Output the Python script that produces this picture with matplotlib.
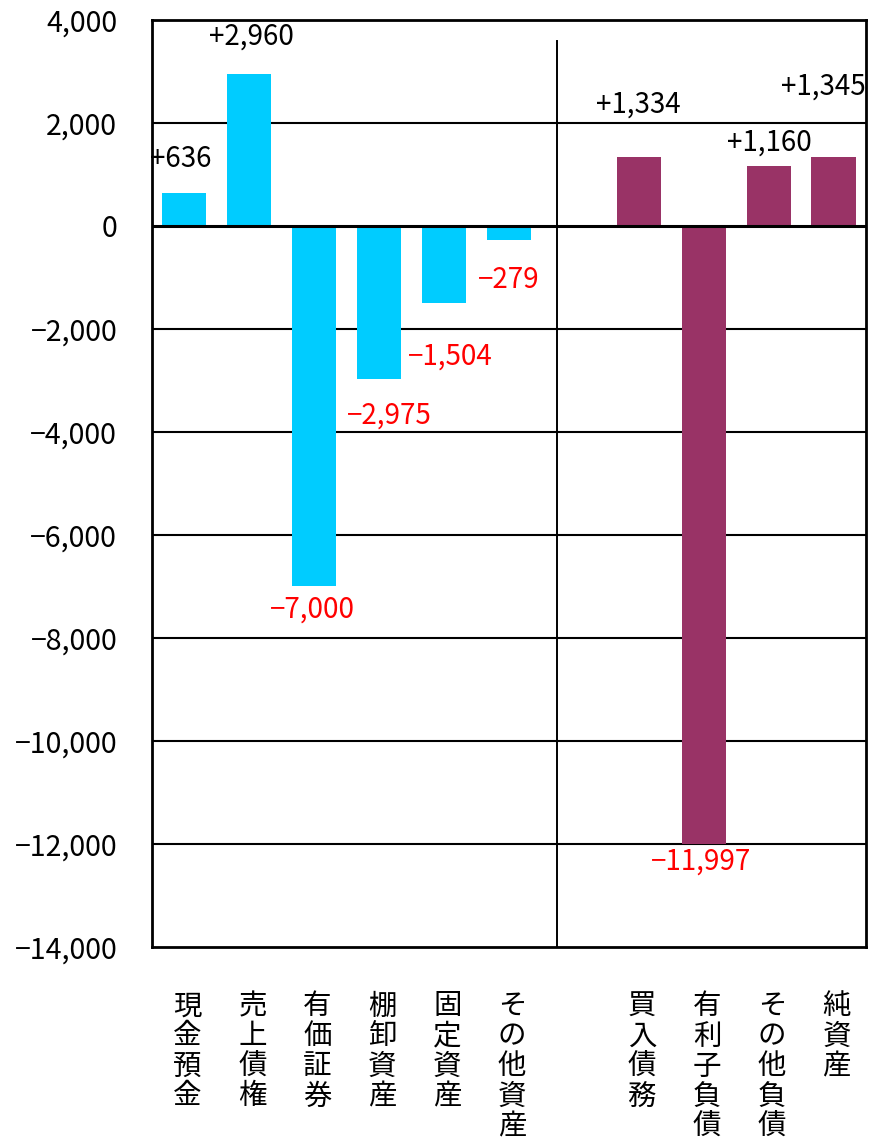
import matplotlib
matplotlib.use("Agg")
import matplotlib.pyplot as plt
from matplotlib.ticker import FuncFormatter

plt.rcParams['font.family'] = ['Noto Sans CJK JP', 'DejaVu Sans']

# データ（資産側・負債/純資産側）
asset_names = ['現金預金', '売上債権', '有価証券', '棚卸資産', '固定資産', 'その他資産']
asset_values = [636, 2960, -7000, -2975, -1504, -279]
liab_names = ['買入債務', '有利子負債', 'その他負債', '純資産']
liab_values = [1334, -11997, 1160, 1345]
y_ticks = list(range(-14000, 4001, 2000))

# ラベル位置の調整 (pixel offset from bar tip)
asset_offsets = [(-4, 34), (2, 37), (-2, -23), (10, -36), (6, -53), (0, -40)]
liab_offsets = [(0, 53), (-3, -18), (1, 24), (-10, 70)]

CYAN = '#00CCFF'
MAROON = '#993366'


def fmt_num(v, sign=False):
    s = f"{abs(v):,.0f}"
    if v < 0:
        return '\u2212' + s
    return ('+' + s) if sign and v > 0 else s


fig = plt.figure(figsize=(8.73, 11.40), dpi=100)
ax = fig.add_axes([0.174, 0.1693, 0.818, 0.8132])

asset_x = list(range(len(asset_values)))
liab_x = [len(asset_values) + 1 + i for i in range(len(liab_values))]

ax.bar(asset_x, asset_values, width=0.68, color=CYAN, zorder=3)
ax.bar(liab_x, liab_values, width=0.68, color=MAROON, zorder=3)

ax.set_xlim(-0.5, liab_x[-1] + 0.5)
ax.set_ylim(y_ticks[0], y_ticks[-1])
ax.set_yticks(y_ticks)
ax.yaxis.set_major_formatter(FuncFormatter(lambda v, p: fmt_num(v)))
ax.tick_params(axis='y', length=0, pad=25, labelsize=20.5)
ax.set_xticks([])

for y in y_ticks[1:-1]:
    ax.axhline(y, color='black', lw=1.5 if y else 2.2, zorder=4 if y == 0 else 1)

# 区切り線
ax.plot([5.74, 5.74], [y_ticks[0], 3600], color='black', lw=1.4, zorder=4)

for sp in ax.spines.values():
    sp.set_linewidth(2)

for xs, vals, offs in [(asset_x, asset_values, asset_offsets),
                       (liab_x, liab_values, liab_offsets)]:
    for x, v, (dx, dy) in zip(xs, vals, offs):
        ax.annotate(fmt_num(v, sign=True), (x, v), xytext=(dx, dy),
                    textcoords='offset pixels', ha='center', va='center',
                    fontsize=20, color='black' if v > 0 else 'red', zorder=6)

# カテゴリ名（縦書き）
for x, name in zip(asset_x + liab_x, asset_names + liab_names):
    ax.text(x + 0.05, -0.048, '\n'.join(name), transform=ax.get_xaxis_transform(),
            ha='center', va='top', fontsize=20.5, linespacing=1.0)

fig.savefig('out.png', dpi=100)
